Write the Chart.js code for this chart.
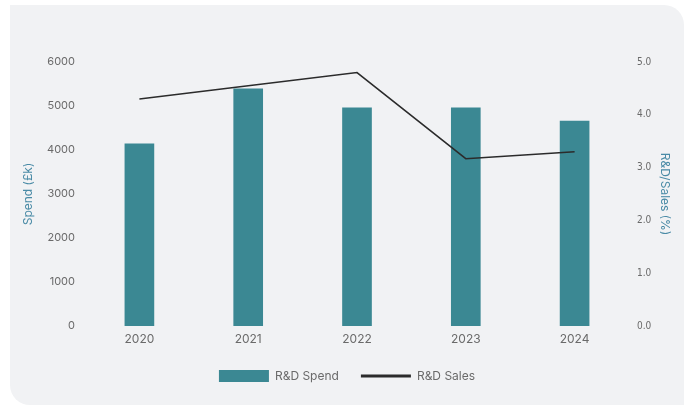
<!DOCTYPE html>
<html>
<head>
<meta charset="utf-8">
<script src="https://cdn.jsdelivr.net/npm/chart.js@4/dist/chart.umd.min.js"></script>
<style>
  html, body { margin: 0; padding: 0; background: #ffffff; }
  .card {
    position: absolute;
    left: 10px;
    top: 5px;
    width: 674px;
    height: 400px;
    background: #f1f2f4;
    border-radius: 0 20px 0 20px;
  }
</style>
</head>
<body>
<div class="card">
  <canvas id="canvas"></canvas>
</div>
<script>
const years = ['2020', '2021', '2022', '2023', '2024'];
const spend = [4140, 5390, 4960, 4960, 4660];      // £k
const salesRatio = [4.3, 4.55, 4.8, 3.17, 3.3];     // %

const teal = '#3b8893';
const titleBlue = '#4a8ba6';
const tickGrey = '#6a6a6a';

const ctx = document.getElementById('canvas');

new Chart(ctx, {
    data: {
        labels: years,
        datasets: [{
            type: 'bar',
            label: 'R&D Spend',
            data: spend,
            backgroundColor: teal,
            borderWidth: 0,
            barThickness: 29,
            yAxisID: 'y',
            order: 1,
        }, {
            type: 'line',
            label: 'R&D Sales',
            data: salesRatio,
            borderColor: '#2b2b2b',
            borderWidth: 1.5,
            pointRadius: 0,
            tension: 0,
            fill: false,
            yAxisID: 'y1',
            order: 0,
        }]
    },
    options: {
        responsive: true,
        maintainAspectRatio: false,
        animation: false,
        layout: {
            padding: { top: 57, left: 0, right: 0, bottom: 13 }
        },
        plugins: {
            tooltip: { enabled: false },
            legend: {
                position: 'bottom',
                labels: {
                    usePointStyle: true,
                    pointStyleWidth: 50,
                    boxHeight: 16,
                    padding: 22,
                    color: tickGrey,
                    font: { family: 'Inter', size: 12 },
                    sort: (a, b) => a.datasetIndex - b.datasetIndex,
                    generateLabels(chart) {
                        const items = Chart.defaults.plugins.legend.labels.generateLabels(chart);
                        items.forEach(item => {
                            if (chart.data.datasets[item.datasetIndex].type === 'line') {
                                item.pointStyle = 'line';
                                item.strokeStyle = '#2b2b2b';
                                item.lineWidth = 3;
                            } else {
                                item.pointStyle = 'rect';
                                item.fillStyle = teal;
                                item.lineWidth = 0;
                            }
                        });
                        return items;
                    }
                }
            }
        },
        scales: {
            x: {
                offset: true,
                grid: { display: false, drawTicks: false },
                border: { display: false },
                ticks: {
                    color: tickGrey,
                    padding: 6,
                    font: { family: 'Inter', size: 12 }
                },
                afterFit(scale) { scale.height = 22; }
            },
            y: {
                position: 'left',
                min: 0,
                max: 6000,
                grid: { display: false, drawTicks: false },
                border: { display: false },
                ticks: {
                    stepSize: 1000,
                    color: tickGrey,
                    padding: 10,
                    font: { family: 'Inter', size: 11 },
                    callback: v => String(v)
                },
                title: {
                    display: true,
                    text: 'Spend (£k)',
                    color: titleBlue,
                    padding: { top: 11, bottom: 0 },
                    font: { family: 'Inter', size: 12 }
                },
                afterFit(scale) { scale.width = 75; }
            },
            y1: {
                position: 'right',
                min: 0,
                max: 5,
                grid: { display: false, drawTicks: false },
                border: { display: false },
                ticks: {
                    stepSize: 1,
                    color: tickGrey,
                    padding: 8,
                    font: { family: '"DejaVu Sans Condensed", Roboto, sans-serif', size: 10 },
                    callback: v => v.toFixed(1)
                },
                title: {
                    display: true,
                    text: 'R&D/Sales (%)',
                    color: titleBlue,
                    padding: { top: 12, bottom: 0 },
                    font: { family: 'Inter', size: 12 }
                },
                afterFit(scale) { scale.width = 55; }
            }
        }
    }
});
</script>
</body>
</html>
